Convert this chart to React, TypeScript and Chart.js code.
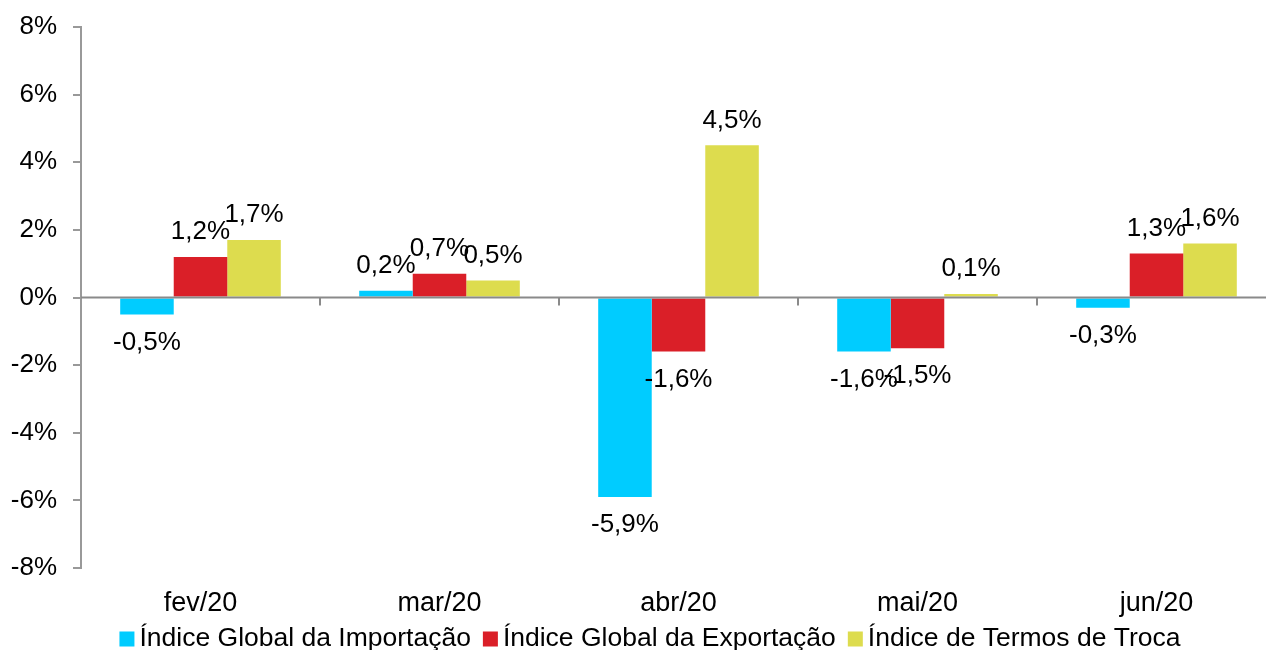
import React, { useEffect, useRef } from "react";
import { Chart, registerables } from "chart.js";

Chart.register(...registerables);

const categories = ["fev/20", "mar/20", "abr/20", "mai/20", "jun/20"];
const importacao = [-0.5, 0.2, -5.9, -1.6, -0.3];
const exportacao = [1.2, 0.7, -1.6, -1.5, 1.3];
const termosTroca = [1.7, 0.5, 4.5, 0.1, 1.6];
const seriesNames = [
  "Índice Global da Importação",
  "Índice Global da Exportação",
  "Índice de Termos de Troca",
];
const yTicks = [-8, -6, -4, -2, 0, 2, 4, 6, 8];

const FONT = "'Liberation Sans', Arial, sans-serif";
const fmt = (v: number) => v.toFixed(1).replace(".", ",") + "%";

const overlayPlugin = {
  id: "overlay",
  afterDatasetsDraw(chart: any) {
    const { ctx, chartArea, scales } = chart;
    const x = scales.x;
    const y = scales.y;
    const y0 = y.getPixelForValue(0);
    ctx.save();
    // zero line
    ctx.strokeStyle = "#8a8a8a";
    ctx.lineWidth = 2;
    ctx.beginPath();
    ctx.moveTo(chartArea.left, y0);
    ctx.lineTo(chartArea.right, y0);
    ctx.stroke();
    // category boundary ticks
    for (let i = 1; i <= categories.length; i++) {
      const bx =
        i < categories.length
          ? (x.getPixelForValue(i - 1) + x.getPixelForValue(i)) / 2
          : chartArea.right;
      ctx.beginPath();
      ctx.moveTo(bx, y0);
      ctx.lineTo(bx, y0 + 8);
      ctx.stroke();
    }
    // data labels
    ctx.fillStyle = "#000";
    ctx.font = `26px ${FONT}`;
    ctx.textAlign = "center";
    ctx.textBaseline = "middle";
    chart.data.datasets.forEach((ds: any, di: number) => {
      const meta = chart.getDatasetMeta(di);
      meta.data.forEach((bar: any, i: number) => {
        const v = ds.data[i];
        const ty = v >= 0 ? bar.y - 25 : bar.y + 28;
        ctx.fillText(fmt(v), bar.x, ty);
      });
    });
    ctx.restore();
  },
  afterDraw(chart: any) {
    const { ctx } = chart;
    ctx.save();
    ctx.font = `26.5px ${FONT}`;
    ctx.textBaseline = "middle";
    ctx.textAlign = "left";
    const box = 15;
    const gapText = 5;
    const gapItem = 12;
    const items = chart.data.datasets.map((ds: any) => ({
      label: ds.label,
      color: ds.backgroundColor,
      w: box + gapText + ctx.measureText(ds.label).width,
    }));
    const total =
      items.reduce((s: number, it: any) => s + it.w, 0) + gapItem * (items.length - 1);
    let lx = 650 - total / 2;
    const ly = 639;
    items.forEach((it: any) => {
      ctx.fillStyle = it.color;
      ctx.fillRect(lx, ly - box / 2, box, box);
      ctx.fillStyle = "#000";
      ctx.fillText(it.label, lx + box + gapText, ly);
      lx += it.w + gapItem;
    });
    ctx.restore();
  },
};

export default function App() {
  const ref = useRef<HTMLCanvasElement>(null);
  useEffect(() => {
    if (!ref.current) return;
    const chart = new Chart(ref.current, {
      type: "bar",
      data: {
        labels: categories,
        datasets: [
          { label: seriesNames[0], data: importacao, backgroundColor: "#00CCFF" },
          { label: seriesNames[1], data: exportacao, backgroundColor: "#DA1F28" },
          { label: seriesNames[2], data: termosTroca, backgroundColor: "#DDDC4E" },
        ],
      },
      options: {
        responsive: false,
        animation: false,
        devicePixelRatio: 1,
        layout: { padding: { top: 27, right: 4, bottom: 0, left: 0 } },
        datasets: {
          bar: { categoryPercentage: 0.672, barPercentage: 1, borderWidth: 0 },
        },
        plugins: {
          legend: { display: false },
          tooltip: { enabled: false },
        },
        scales: {
          x: {
            grid: { display: false },
            border: { display: false },
            ticks: {
              color: "#000",
              font: { family: FONT, size: 27 },
              padding: 11,
              maxRotation: 0,
            },
            afterFit: (s: any) => {
              s.height = 82;
              s.paddingLeft = 0;
              s.paddingRight = 0;
            },
          },
          y: {
            min: -8,
            max: 8,
            afterBuildTicks: (s: any) => {
              s.ticks = yTicks.map((v) => ({ value: v }));
            },
            grid: {
              drawOnChartArea: false,
              drawTicks: true,
              tickLength: 8,
              color: "#999",
              lineWidth: 2,
            },
            border: { display: true, color: "#999", width: 2 },
            ticks: {
              color: "#000",
              font: { family: FONT, size: 26 },
              padding: 16,
              callback: (v: any) => `${v}%`,
            },
            afterFit: (s: any) => {
              s.width = 81;
              s.paddingTop = 0;
              s.paddingBottom = 0;
            },
          },
        },
      },
      plugins: [overlayPlugin],
    });
    return () => chart.destroy();
  }, []);
  return (
    <div
      style={{
        position: "fixed",
        left: 0,
        top: 0,
        width: 1266,
        height: 650,
        overflow: "hidden",
        background: "#fff",
      }}
    >
      <canvas ref={ref} width={1280} height={650} style={{ width: 1280, height: 650 }} />
    </div>
  );
}
